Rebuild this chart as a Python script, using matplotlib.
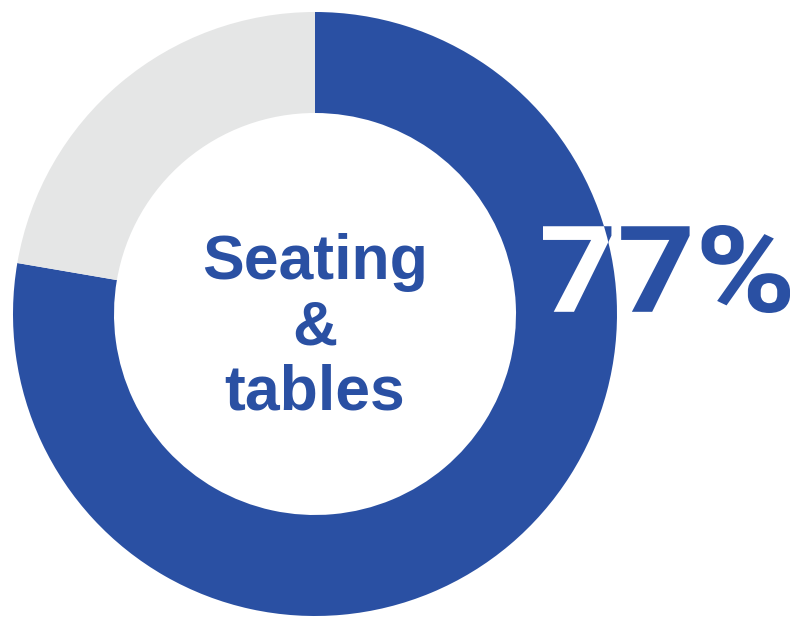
import matplotlib
matplotlib.use("Agg")
import matplotlib.pyplot as plt
from matplotlib.textpath import TextPath
from matplotlib.font_manager import FontProperties
from matplotlib.patches import PathPatch
from matplotlib.transforms import Affine2D

# donut share (as drawn in the picture)
shares = [77.7, 22.3]
share_colors = ["#2a50a3", "#e5e6e6"]
pct_label = "77%"
center_lines = ["Seating", "&", "tables"]

BLUE = "#2a50a3"

fig = plt.figure(figsize=(7.98, 6.2), dpi=100)
ax = fig.add_axes([0, 0, 1, 1])

wedges, _ = ax.pie(
    shares, colors=share_colors, startangle=90, counterclock=False,
    center=(315, 306), radius=302,
    wedgeprops=dict(width=101, edgecolor="none"),
)
ax.set_xlim(0, 798)
ax.set_ylim(0, 620)
ax.set_aspect("equal")
ax.axis("off")

# centre label
for y, line in zip([357, 292, 227], center_lines):
    ax.text(315, y, line, ha="center", va="center", color=BLUE,
            fontsize=45, fontweight="bold", family="Liberation Sans")

# percentage as a path so it can be clipped by the ring:
# blue on white background, white where it overlaps the blue wedge
fp = FontProperties(family="Roboto", weight="bold")
tp = TextPath((0, 0), pct_label, size=100, prop=fp)
ext = tp.get_extents()
x0, x1, y0, y1 = 543, 790, 620 - 313, 620 - 225  # target box in pixels
sx = (x1 - x0) / ext.width
sy = (y1 - y0) / ext.height
tr = Affine2D().translate(-ext.x0, -ext.y0).scale(sx, sy).translate(x0, y0)
path = tr.transform_path(tp)

ax.add_patch(PathPatch(path, facecolor=BLUE, edgecolor="none", zorder=5))
white = PathPatch(path, facecolor="white", edgecolor="none", zorder=6)
ax.add_patch(white)
white.set_clip_path(wedges[0])

fig.savefig("out.png", dpi=100)
